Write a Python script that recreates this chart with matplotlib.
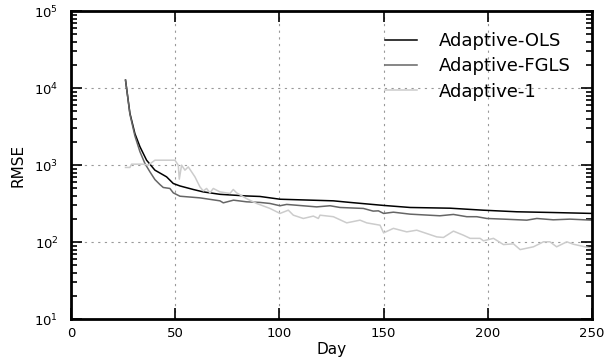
import matplotlib
matplotlib.use('Agg')
import matplotlib.pyplot as plt
from matplotlib.ticker import LogLocator

# Adaptive-OLS
ols_day = [26.2, 28.3, 30.7, 33.1, 36.3, 40.3, 45.9, 49.1, 52.3, 58.7, 63.4, 71.5, 84.3, 90.7,
           100.3, 125.9, 133.9, 149.9, 162.7, 181.9, 197.8, 213.9, 229.8, 250]
ols_val = [12700, 4730, 2570, 1740, 1160, 861, 705, 578, 537, 483, 450, 418, 398, 392,
           361, 344, 328, 300, 282, 276, 260, 248, 243, 236]

# Adaptive-FGLS
fgls_day = [26.2, 28.3, 30.7, 33.1, 35.5, 37.9, 40.3, 42.7, 44.3, 47.5, 49.1, 52.3, 61.9, 71.5,
            73.1, 78.0, 84.3, 90.7, 95.5, 100.3, 103.5, 117.9, 124.3, 129.1, 140.3, 145.0,
            147.5, 150.0, 154.7, 162.7, 177.0, 183.5, 189.9, 194.7, 199.5, 207.5, 218.7,
            223.5, 231.4, 239.4, 250]
fgls_val = [12700, 4600, 2400, 1500, 1052, 820, 650, 560, 513, 498, 437, 395, 376, 344,
            324, 351, 334, 328, 318, 297, 309, 287, 297, 282, 274, 253,
            255, 236, 245, 231, 220, 229, 214, 214, 203, 199, 193,
            203, 195, 199, 193]

# Adaptive-1
a1_day = [26.2, 28.3, 29.1, 34.7, 37.1, 40.3, 49.9, 51.5, 52.0, 53.1, 54.7, 56.3, 59.5, 61.9,
          63.5, 65.1, 66.7, 68.3, 71.5, 76.3, 77.9, 79.5, 84.3, 89.1, 95.5, 100.3, 104.3,
          106.7, 111.5, 116.3, 118.7, 119.5, 125.9, 132.3, 138.7, 141.9, 148.3, 150.0,
          154.7, 161.1, 165.9, 175.5, 178.7, 183.5, 188.3, 191.5, 196.3, 197.9, 202.7,
          207.5, 212.3, 215.5, 221.9, 226.7, 229.8, 233.0, 237.9, 241.0, 250]
a1_val = [934, 934, 1030, 1030, 1000, 1160, 1160, 1000, 658, 1000, 861, 950, 705, 522,
          463, 498, 437, 498, 450, 429, 483, 437, 367, 318, 274, 236, 260,
          224, 203, 218, 203, 224, 214, 178, 193, 178, 166, 132,
          151, 136, 143, 117, 115, 139, 123, 112, 112, 104, 112,
          93, 95, 80, 87, 101, 101, 87, 101, 94, 83]

fig = plt.figure(figsize=(6.06, 3.61), dpi=100)
ax = fig.add_axes([0.117, 0.116, 0.860, 0.853])

ax.plot(ols_day, ols_val, color='black', lw=1.1, label='Adaptive-OLS')
ax.plot(fgls_day, fgls_val, color='0.4', lw=1.1, label='Adaptive-FGLS')
ax.plot(a1_day, a1_val, color='0.8', lw=1.1, label='Adaptive-1')

ax.set_yscale('log')
ax.set_xlim(0, 250)
ax.set_ylim(10, 1e5)
ax.set_xticks([0, 50, 100, 150, 200, 250])
ax.yaxis.set_major_locator(LogLocator(base=10, numticks=10))
ax.yaxis.set_minor_locator(LogLocator(base=10, subs=range(2, 10), numticks=10))

ax.grid(True, which='major', color='0.6', linestyle=(0, (2, 4)), lw=0.8)
ax.tick_params(which='both', direction='in', top=True, right=True, labelsize=9.5, width=1.2)
ax.tick_params(which='major', length=8, pad=6)
ax.tick_params(which='minor', length=4)
ax.tick_params(axis='y', which='major', pad=9)
for s in ax.spines.values():
    s.set_linewidth(2)

ax.set_xlabel('Day', fontsize=11, labelpad=1)
ax.set_ylabel('RMSE', fontsize=11, labelpad=6)

ax.legend(loc='upper right', frameon=False, fontsize=13, handlelength=1.8,
          handletextpad=1.2, labelspacing=0.4, bbox_to_anchor=(0.99, 0.985))

fig.savefig('out.png', dpi=100)
